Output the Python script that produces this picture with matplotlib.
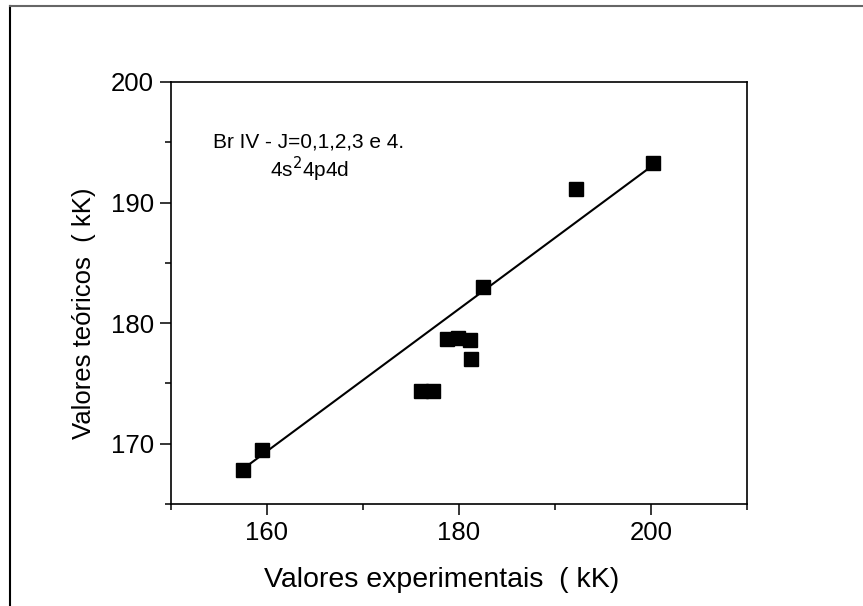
import matplotlib
matplotlib.use("Agg")
import matplotlib.pyplot as plt
from matplotlib.lines import Line2D
from matplotlib.ticker import MultipleLocator
import numpy as np

plt.rcParams['font.family'] = ['Liberation Sans', 'DejaVu Sans']

# valores experimentais e teóricos (kK)
x_exp = [157.5, 159.5, 176.0, 177.3, 178.75, 179.9, 181.1, 181.25, 182.5, 192.2, 200.2]
y_teo = [167.85, 169.5, 174.4, 174.4, 178.7, 178.8, 178.6, 177.0, 183.0, 191.1, 193.3]

# reta de ajuste: y = inclinacao * x + intercepto
inclinacao = 0.59
intercepto = 167.9 - 0.59 * 157.5

fig = plt.figure(figsize=(8.63, 6.06), dpi=100)
ax = fig.add_axes([0.198, 0.1683, 0.6676, 0.6964])

ax.plot(x_exp, y_teo, 's', color='black', markersize=10.5, zorder=3)

xf = np.array([min(x_exp), max(x_exp)])
ax.plot(xf, inclinacao * xf + intercepto, color='black', linewidth=1.5)

ax.set_xlim(150, 210)
ax.set_ylim(165, 200)
ax.xaxis.set_major_locator(MultipleLocator(20))
ax.xaxis.set_minor_locator(MultipleLocator(10))
ax.yaxis.set_major_locator(MultipleLocator(10))
ax.yaxis.set_minor_locator(MultipleLocator(5))
ax.tick_params(which='major', direction='out', length=8, width=1.1, labelsize=18.5, pad=4)
ax.tick_params(which='minor', direction='out', length=4, width=1.1)
for s in ax.spines.values():
    s.set_linewidth(1.2)

ax.set_xlabel("Valores experimentais  ( kK)", fontsize=20.5)
ax.xaxis.set_label_coords(0.47, -0.15)
ax.set_ylabel("Valores teóricos  ( kK)", fontsize=18.5)
ax.yaxis.set_label_coords(-0.13, 0.453)

ax.text(0.073, 0.845, "Br IV - J=0,1,2,3 e 4.", transform=ax.transAxes, fontsize=15)
ax.text(0.172, 0.775, "4s$^2$4p4d", transform=ax.transAxes, fontsize=15)

# moldura externa
fig.add_artist(Line2D([9.5 / 863, 9.5 / 863], [0, 1 - 5.5 / 606], transform=fig.transFigure,
                      color='black', linewidth=1.5))
fig.add_artist(Line2D([9.5 / 863, 1], [1 - 5.5 / 606, 1 - 5.5 / 606], transform=fig.transFigure,
                      color='#666666', linewidth=1.5))

fig.savefig("out.png", dpi=100)
